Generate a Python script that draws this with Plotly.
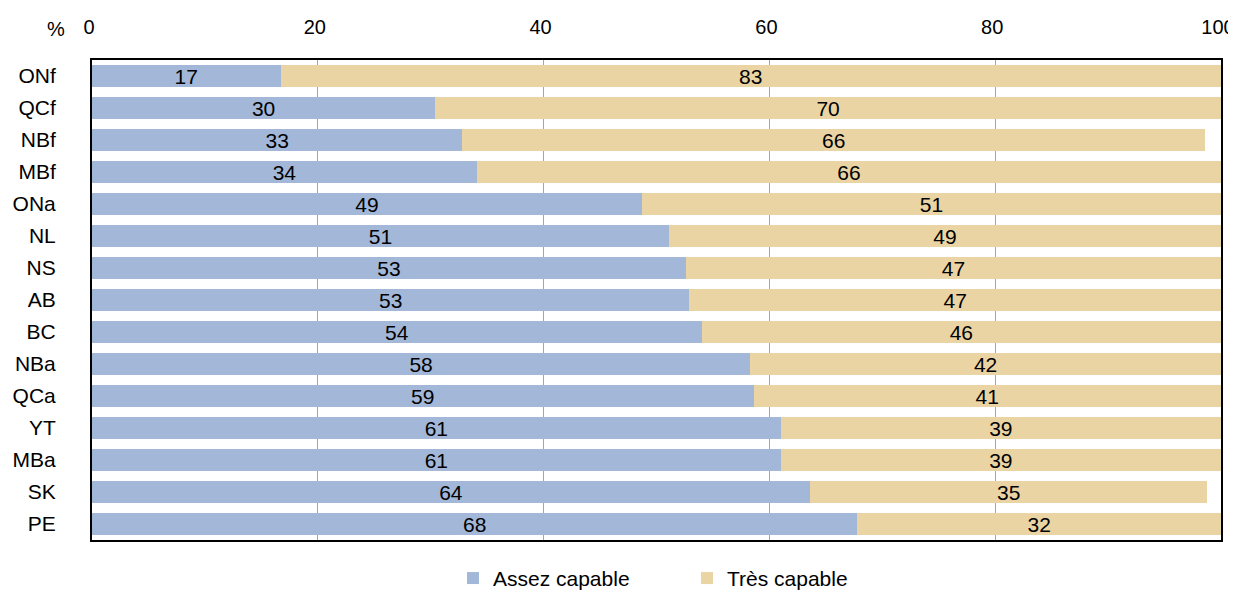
import plotly.graph_objects as go

regions = ["ONf", "QCf", "NBf", "MBf", "ONa", "NL", "NS", "AB", "BC",
           "NBa", "QCa", "YT", "MBa", "SK", "PE"]
assez = [16.7, 30.4, 32.8, 34.1, 48.7, 51.1, 52.6, 52.9, 54.0,
         58.3, 58.6, 61.0, 61.0, 63.6, 67.8]
tres = [83.3, 69.6, 65.8, 65.9, 51.3, 48.9, 47.4, 47.1, 46.0,
        41.7, 41.4, 39.0, 39.0, 35.2, 32.2]
assez_labels = ["17", "30", "33", "34", "49", "51", "53", "53", "54",
                "58", "59", "61", "61", "64", "68"]
tres_labels = ["83", "70", "66", "66", "51", "49", "47", "47", "46",
               "42", "41", "39", "39", "35", "32"]
tick_vals = [0, 20, 40, 60, 80, 100]

FONT = "Liberation Sans, Arial, sans-serif"
FS = 21
fig = go.Figure()
fig.add_trace(go.Bar(
    y=regions, x=assez, orientation="h", name="Assez capable",
    marker=dict(color="#A3B7D8", line=dict(width=0)),
    text=assez_labels, textposition="inside", insidetextanchor="middle",
    textfont=dict(color="black", size=FS, family=FONT), constraintext="none",
    hoverinfo="x+y"))
fig.add_trace(go.Bar(
    y=regions, x=tres, orientation="h", name="Très capable",
    marker=dict(color="#EBD4A3", line=dict(width=0)),
    text=tres_labels, textposition="inside", insidetextanchor="middle",
    textfont=dict(color="black", size=FS, family=FONT), constraintext="none",
    hoverinfo="x+y"))

fig.update_layout(
    barmode="stack", bargap=0.31,
    width=1228, height=582,
    margin=dict(l=84, r=15, t=52, b=50, autoexpand=False),
    paper_bgcolor="white", plot_bgcolor="white",
    font=dict(family=FONT, size=FS, color="black"),
    showlegend=True,
    legend=dict(orientation="h", x=0.527, xanchor="center", y=-0.08, yanchor="middle",
                font=dict(size=FS, color="black"), entrywidth=189,
                traceorder="normal"),
    xaxis=dict(side="top", range=[0, 100], tickvals=tick_vals,
               showgrid=True, gridcolor="#A6A6A6", gridwidth=1,
               showline=True, mirror=True, linecolor="black", linewidth=2,
               ticks="", ticklabelstandoff=16, ticklabelshift=-3, zeroline=False,
               ticklabeloverflow="allow",
               tickfont=dict(size=20, color="black")),
    yaxis=dict(autorange="reversed", showgrid=False,
               showline=True, mirror=True, linecolor="black", linewidth=2,
               ticks="", ticklabelstandoff=30,
               tickfont=dict(size=FS, color="black")),
    annotations=[dict(text="%", xref="paper", yref="paper", x=-0.022, y=1.0,
                      xanchor="right", yanchor="bottom", yshift=18, showarrow=False,
                      font=dict(size=20, color="black"))],
)

fig.write_html("out.html")
